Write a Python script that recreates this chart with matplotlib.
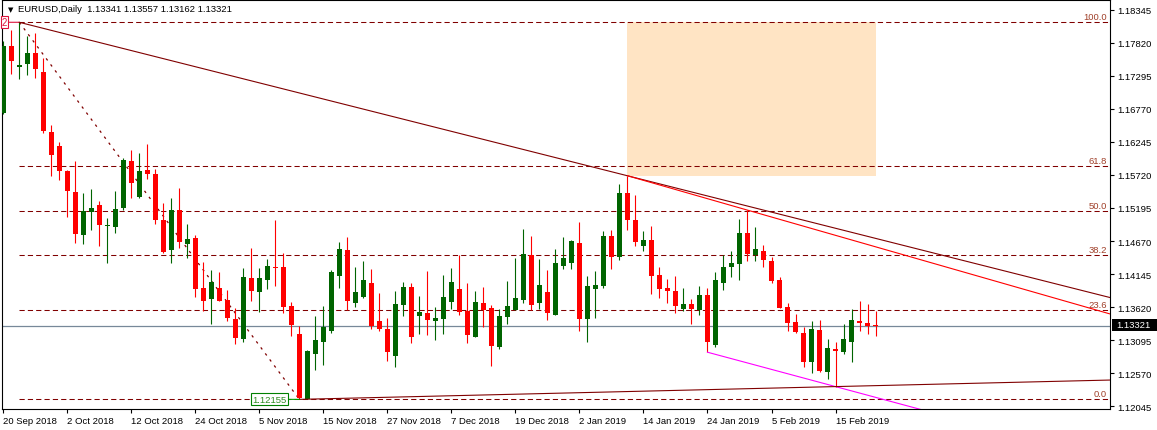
import matplotlib
matplotlib.use("Agg")
import matplotlib.pyplot as plt
import numpy as np
import pandas as pd
from matplotlib.patches import Rectangle

# EURUSD daily, 20 Sep 2018 .. 22 Feb 2019 (no bars on 25 Dec / 1 Jan)
dates = [d for d in pd.bdate_range("2018-09-20", "2019-02-22")
         if d.strftime("%m-%d") not in ("12-25", "01-01")]

opens = [1.16709, 1.17769, 1.17435, 1.17478, 1.17663, 1.17356, 1.16407, 1.16184, 1.15787, 1.15453,
         1.14759, 1.15124, 1.15240, 1.14907, 1.14886, 1.15188, 1.15946, 1.15363, 1.15803, 1.15740,
         1.15008, 1.14520, 1.15161, 1.14626, 1.14721, 1.13927, 1.13757, 1.13922, 1.13736, 1.13434,
         1.13110, 1.14080, 1.13868, 1.14059, 1.14255, 1.14260, 1.13640, 1.13195, 1.12165, 1.12882,
         1.13073, 1.13248, 1.14122, 1.14531, 1.13693, 1.13789, 1.14006, 1.13402, 1.13275, 1.12850,
         1.13661, 1.13942, 1.13487, 1.13529, 1.13407, 1.13434, 1.13709, 1.13911, 1.13566, 1.13153,
         1.13688, 1.13608, 1.12994, 1.13471, 1.13582, 1.13741, 1.14451, 1.13693, 1.13868, 1.13503,
         1.14266, 1.14329, 1.14642, 1.13428, 1.13911, 1.13948, 1.14753, 1.14414, 1.15437, 1.15008,
         1.14584, 1.14690, 1.14133, 1.13927, 1.13879, 1.13598, 1.13672, 1.13582, 1.13815, 1.13020,
         1.14000, 1.14260, 1.14313, 1.14801, 1.14456, 1.14510, 1.14356, 1.14054, 1.13624, 1.13386,
         1.13211, 1.12755, 1.13259, 1.12596, 1.12957, 1.12914, 1.13073, 1.13402, 1.13370, 1.13341]
highs = [1.17849, 1.18029, 1.18145, 1.17928, 1.17976, 1.17578, 1.16518, 1.16248, 1.15803, 1.15946,
         1.15437, 1.15501, 1.15305, 1.15040, 1.15469, 1.15994, 1.16121, 1.16073, 1.16216, 1.15819,
         1.15278, 1.15358, 1.15517, 1.14944, 1.14769, 1.14340, 1.14213, 1.14186, 1.13895, 1.13608,
         1.14245, 1.14562, 1.14245, 1.14382, 1.15008, 1.14483, 1.13709, 1.13322, 1.12941, 1.13481,
         1.13640, 1.14213, 1.14658, 1.14737, 1.14260, 1.14356, 1.14229, 1.13847, 1.13450, 1.13879,
         1.14022, 1.14006, 1.13799, 1.14197, 1.13624, 1.14133, 1.14245, 1.14451, 1.14011, 1.13884,
         1.13942, 1.13656, 1.13592, 1.14043, 1.14403, 1.14865, 1.14753, 1.14388, 1.14213, 1.14547,
         1.14737, 1.14690, 1.14976, 1.14117, 1.14197, 1.14833, 1.14849, 1.15580, 1.15707, 1.15405,
         1.14833, 1.14912, 1.14260, 1.14070, 1.14117, 1.13927, 1.13752, 1.13958, 1.13927, 1.14186,
         1.14451, 1.14515, 1.15024, 1.15161, 1.14896, 1.14610, 1.14419, 1.14101, 1.13688, 1.13513,
         1.13306, 1.13402, 1.13418, 1.13116, 1.13068, 1.13354, 1.13592, 1.13720, 1.13672, 1.13557]
lows = [1.16690, 1.17318, 1.17239, 1.17302, 1.17255, 1.16386, 1.15700, 1.15633, 1.15045, 1.14642,
        1.14626, 1.14838, 1.14599, 1.14320, 1.14790, 1.15167, 1.15347, 1.15352, 1.15649, 1.14944,
        1.14488, 1.14329, 1.14557, 1.14398, 1.13789, 1.13566, 1.13359, 1.13720, 1.13407, 1.13030,
        1.13073, 1.13725, 1.13540, 1.13911, 1.13948, 1.13524, 1.13169, 1.12155, 1.12160, 1.12623,
        1.12708, 1.13216, 1.13932, 1.13582, 1.13624, 1.13770, 1.13280, 1.13248, 1.12771, 1.12676,
        1.13487, 1.13057, 1.13195, 1.13185, 1.13105, 1.13195, 1.13592, 1.13497, 1.13052, 1.13140,
        1.13306, 1.12692, 1.12962, 1.13354, 1.13570, 1.13693, 1.13577, 1.13592, 1.13423, 1.13490,
        1.14229, 1.14218, 1.13248, 1.13073, 1.13455, 1.13930, 1.14218, 1.14361, 1.14838, 1.14584,
        1.14504, 1.13821, 1.13773, 1.13693, 1.13534, 1.13566, 1.13359, 1.13503, 1.12904, 1.12994,
        1.13900, 1.14101, 1.14059, 1.14356, 1.14350, 1.14250, 1.14011, 1.13600, 1.13243, 1.13211,
        1.12676, 1.12580, 1.12596, 1.12485, 1.12358, 1.12882, 1.12755, 1.13248, 1.13200, 1.13162]
closes = [1.17769, 1.17525, 1.17472, 1.17663, 1.17398, 1.16412, 1.16031, 1.15776, 1.15458, 1.14775,
          1.15151, 1.15198, 1.14918, 1.14928, 1.15183, 1.15951, 1.15585, 1.15787, 1.15730, 1.14997,
          1.14499, 1.15161, 1.14647, 1.14700, 1.13916, 1.13725, 1.14022, 1.13725, 1.13455, 1.13137,
          1.14096, 1.13884, 1.14080, 1.14271, 1.14245, 1.13624, 1.13343, 1.12170, 1.12920, 1.13100,
          1.13306, 1.14180, 1.14547, 1.13710, 1.13863, 1.14054, 1.13328, 1.13280, 1.12914, 1.13672,
          1.13942, 1.13153, 1.13545, 1.13423, 1.13450, 1.13784, 1.14027, 1.13550, 1.13185, 1.13709,
          1.13571, 1.13010, 1.13481, 1.13640, 1.13768, 1.14467, 1.13661, 1.13974, 1.13534, 1.14329,
          1.14398, 1.14674, 1.13439, 1.13958, 1.13974, 1.14753, 1.14409, 1.15437, 1.14997, 1.14647,
          1.14690, 1.14122, 1.13916, 1.13884, 1.13646, 1.13672, 1.13598, 1.13815, 1.13073, 1.14054,
          1.14260, 1.14329, 1.14801, 1.14472, 1.14547, 1.14361, 1.14038, 1.13608, 1.13370, 1.13227,
          1.12755, 1.13275, 1.12612, 1.12973, 1.12930, 1.13116, 1.13418, 1.13370, 1.13328, 1.13321]

price_ticks = [1.12045, 1.12570, 1.13095, 1.13620, 1.14145, 1.14670, 1.15195,
               1.15720, 1.16245, 1.16770, 1.17295, 1.17820, 1.18345]
date_labels = ["20 Sep 2018", "2 Oct 2018", "12 Oct 2018", "24 Oct 2018", "5 Nov 2018",
               "15 Nov 2018", "27 Nov 2018", "7 Dec 2018", "19 Dec 2018", "2 Jan 2019",
               "14 Jan 2019", "24 Jan 2019", "5 Feb 2019", "15 Feb 2019"]
fib_ratios = [0.0, 0.236, 0.382, 0.5, 0.618, 1.0]
fib_names = ["0.0", "23.6", "38.2", "50.0", "61.8", "100.0"]
bid = 1.13321
title = "EURUSD,Daily  1.13341 1.13557 1.13162 1.13321"

# anchor bars for the drawn objects
fib_hi, fib_lo = 2, 37
W, H = 1157, 431
BULL, BEAR, MAROON = "#006400", "#FF0000", "#800000"
FS = 6.8

o = np.array(opens); h = np.array(highs); l = np.array(lows); c = np.array(closes)
x = np.arange(len(dates))

fig = plt.figure(figsize=(W / 100, H / 100), dpi=100)
ax = fig.add_axes([2 / W, (H - 410) / H, 1108 / W, 409 / H])
xmax = 138.3
ax.set_xlim(-0.16, xmax)
ax.set_ylim(1.12002, 1.18499)

# rectangle from the Jan 10 high up to the fib 100 level
ax.add_patch(Rectangle((78, h[78]), 109 - 78, h[fib_hi] - h[78],
                       facecolor="#FFE4C4", edgecolor="none", zorder=0))

# fibo levels
lo_p, hi_p = l[fib_lo], h[fib_hi]
for r, name in zip(fib_ratios, fib_names):
    lv = lo_p + r * (hi_p - lo_p)
    ax.plot([fib_hi, xmax], [lv, lv], color=MAROON, lw=0.75, ls=(0, (5, 3)), zorder=1)
    ax.annotate(name, xy=(xmax, lv), xytext=(-3, 1), textcoords="offset pixels",
                ha="right", va="bottom", fontsize=FS, color="#A0402A",
                family="Liberation Sans")
ax.plot([fib_hi, fib_lo], [hi_p, lo_p], color=MAROON, lw=0.9, ls=(0, (2, 4)), zorder=1)

# bid line
ax.axhline(bid, color="#778899", lw=0.9, zorder=1)


def ray(i0, p0, i1, p1, color):
    slope = (p1 - p0) / (i1 - i0)
    ax.plot([i0, xmax], [p0, p0 + slope * (xmax - i0)], color=color, lw=0.8, zorder=4)


ray(fib_hi, h[fib_hi], 78, h[78], MAROON)
ray(78, h[78], 93, h[93], "#FF0000")
ray(88, l[88], 104, l[104], "#FF00FF")
ray(fib_lo, l[fib_lo], 104, l[104], MAROON)

# candles
up = c >= o
col = np.where(up, BULL, BEAR)
ax.vlines(x, l, h, colors=col, lw=0.8, zorder=3)
body = np.maximum(np.abs(c - o), 0.00013)
ax.bar(x, body, bottom=np.minimum(o, c), width=0.62, color=col, linewidth=0, zorder=3)

# labels on the chart
ax.annotate("2", xy=(fib_hi, hi_p), xytext=(-12, 0), textcoords="offset pixels",
            ha="right", va="center", fontsize=7, color="#DC143C", family="Liberation Sans",
            bbox=dict(boxstyle="square,pad=0.1", fc="white", ec="#DC143C", lw=0.8),
            arrowprops=dict(arrowstyle="-", color="#DC143C", lw=0.8, shrinkA=0, shrinkB=0))
ax.annotate(f"{lo_p:.5f}", xy=(fib_lo, lo_p), xytext=(-13, 0), textcoords="offset pixels",
            ha="right", va="center", fontsize=FS, color="#2E8B22", family="Liberation Sans",
            bbox=dict(boxstyle="square,pad=0.15", fc="white", ec="#008000", lw=0.8),
            arrowprops=dict(arrowstyle="-", color="#00A000", lw=0.8, shrinkA=0, shrinkB=0),
            zorder=5)

# axes
for s in ax.spines.values():
    s.set_color("black")
    s.set_linewidth(0.8)
ax.yaxis.tick_right()
ax.set_yticks(price_ticks)
ax.set_yticklabels([f"{p:.5f}" for p in price_ticks])
ax.set_xticks(x[::8])
ax.set_xticklabels(date_labels)
ax.tick_params(axis="both", direction="out", length=3, width=0.8, color="black",
               labelsize=FS, pad=2)
for lbl in ax.get_xticklabels() + ax.get_yticklabels():
    lbl.set_family("Liberation Sans")
for lbl in ax.get_xticklabels():
    lbl.set_ha("left")

# bid price tag on the scale
fig.patches.append(Rectangle((1112 / W, (H - 332) / H), 45 / W, 12 / H,
                             transform=fig.transFigure, facecolor="black", edgecolor="none"))
fig.text(1116 / W, (H - 326) / H, f"{bid:.5f}", color="white", fontsize=FS,
         va="center", ha="left", family="Liberation Sans")

# title
fig.text(10.5 / W, (H - 10) / H, "\u25bc", fontsize=5, va="center", ha="center",
         family="DejaVu Sans")
fig.text(18 / W, (H - 10) / H, title, fontsize=FS, va="center", ha="left",
         family="Liberation Sans")

fig.savefig("out.png", dpi=100)
